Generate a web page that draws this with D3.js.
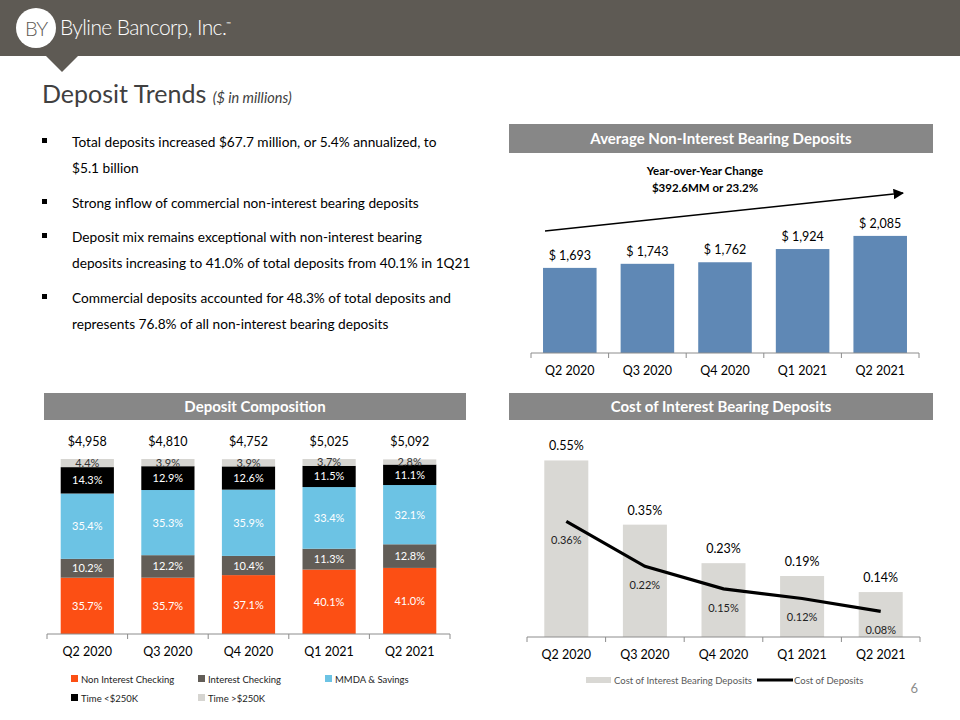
<!DOCTYPE html>
<html>
<head>
<meta charset="utf-8">
<script src="https://d3js.org/d3.v7.min.js"></script>
<style>
  body { margin: 0; padding: 0; background: #fff; }
  svg text { font-family: Lato, "Open Sans", sans-serif; }
</style>
</head>
<body>
<div id="slide"></div>
<script>
// ---- data ----
var quarters = ["Q2 2020", "Q3 2020", "Q4 2020", "Q1 2021", "Q2 2021"];
var avgNonIntBearing = [1693, 1743, 1762, 1924, 2085];
var totalDeposits = [4958, 4810, 4752, 5025, 5092];
var mixNames = ["Non Interest Checking", "Interest Checking", "MMDA & Savings", "Time <$250K", "Time >$250K"];
var nonIntChecking = [35.7, 35.7, 37.1, 40.1, 41.0];
var intChecking = [10.2, 12.2, 10.4, 11.3, 12.8];
var mmdaSavings = [35.4, 35.3, 35.9, 33.4, 32.1];
var timeUnder250 = [14.3, 12.9, 12.6, 11.5, 11.1];
var timeOver250 = [4.4, 3.9, 3.9, 3.7, 2.8];
var costIntBearing = [0.55, 0.35, 0.23, 0.19, 0.14];
var costDeposits = [0.36, 0.22, 0.15, 0.12, 0.08];
var bullets = [
  ["Total deposits increased $67.7 million, or 5.4% annualized, to", "$5.1 billion"],
  ["Strong inflow of commercial non-interest bearing deposits"],
  ["Deposit mix remains exceptional with non-interest bearing", "deposits increasing to 41.0% of total deposits from 40.1% in 1Q21"],
  ["Commercial deposits accounted for 48.3% of total deposits and", "represents 76.8% of all non-interest bearing deposits"]
];

var W = 960, H = 720;
var svg = d3.select("#slide").append("svg")
  .attr("width", W).attr("height", H);

// ---- header ----
svg.append("rect").attr("x", 0).attr("y", 0).attr("width", W).attr("height", 56)
  .attr("fill", "#5e5a54");
svg.append("path").attr("d", "M45,55 L79,55 L62,72 Z").attr("fill", "#5e5a54");
svg.append("circle").attr("cx", 36).attr("cy", 28).attr("r", 20).attr("fill", "#fff");
svg.append("text").attr("x", 36).attr("y", 35.5).attr("text-anchor", "middle")
  .style("font-size", "20px").style("font-weight", 300).style("letter-spacing", "-1px")
  .attr("fill", "#5e5a54").text("BY");
svg.append("text").attr("x", 60).attr("y", 35)
  .style("font-size", "21px").style("font-weight", 300).style("letter-spacing", "-0.6px")
  .attr("fill", "#fff").text("Byline Bancorp, Inc.");
svg.append("text").attr("x", 226).attr("y", 26)
  .style("font-size", "6px").attr("fill", "#fff").text("™");

// ---- title ----
var title = svg.append("text").attr("x", 42).attr("y", 103).attr("fill", "#404040");
title.append("tspan").style("font-size", "25px").text("Deposit Trends ");
title.append("tspan").style("font-size", "14.5px").style("font-style", "italic").text("($ in millions)");

// ---- bullets ----
var lineY = [[142, 168], [203], [237, 263], [298, 324]];
bullets.forEach(function (b, i) {
  svg.append("rect").attr("x", 42).attr("y", lineY[i][0] - 4).attr("width", 5).attr("height", 5)
    .attr("fill", "#000");
  b.forEach(function (line, j) {
    svg.append("text").attr("x", 72).attr("y", lineY[i][j] + 5)
      .style("font-size", "13.7px").attr("fill", "#000").text(line);
  });
});

// ---- section headers ----
function sectionHeader(x, y, w, h, label) {
  svg.append("rect").attr("x", x).attr("y", y).attr("width", w).attr("height", h).attr("fill", "#878787");
  svg.append("text").attr("x", x + w / 2).attr("y", y + h / 2 + 5.5).attr("text-anchor", "middle")
    .style("font-size", "15px").style("font-weight", 700).attr("fill", "#fff").text(label);
}
sectionHeader(509, 124, 424, 29, "Average Non-Interest Bearing Deposits");
sectionHeader(44, 393, 422, 27, "Deposit Composition");
sectionHeader(509, 393, 424, 27, "Cost of Interest Bearing Deposits");

function bottomAxis(g, x, y0) {
  var ax = g.append("g").attr("transform", "translate(0," + y0 + ")");
  var r = x.range();
  ax.append("line").attr("x1", r[0]).attr("x2", r[1]).attr("stroke", "#8c8c8c");
  var bounds = d3.range(quarters.length + 1).map(function (i) { return r[0] + i * x.step(); });
  ax.selectAll("line.tk").data(bounds).enter().append("line").attr("class", "tk")
    .attr("x1", function (d) { return d; }).attr("x2", function (d) { return d; })
    .attr("y1", 0).attr("y2", 5).attr("stroke", "#8c8c8c");
  ax.selectAll("text").data(quarters).enter().append("text")
    .attr("x", function (d) { return x(d) + x.bandwidth() / 2; })
    .attr("y", 22).attr("text-anchor", "middle")
    .style("font-size", "12.5px").attr("fill", "#000").text(function (d) { return d; });
}

// ---- average non-interest bearing deposits ----
var g1 = svg.append("g");
var x1 = d3.scaleBand().domain(quarters).range([531, 919]).paddingInner(0.31).paddingOuter(0.155);
var y1 = d3.scaleLinear().domain([650, 2200]).range([353, 353 - 1550 * 0.0816]);
g1.selectAll("rect").data(avgNonIntBearing).enter().append("rect")
  .attr("x", function (d, i) { return x1(quarters[i]); })
  .attr("width", x1.bandwidth())
  .attr("y", function (d) { return y1(d); })
  .attr("height", function (d) { return y1(650) - y1(d); })
  .attr("fill", "#5f88b5");
g1.selectAll("text.val").data(avgNonIntBearing).enter().append("text").attr("class", "val")
  .attr("x", function (d, i) { return x1(quarters[i]) + x1.bandwidth() / 2; })
  .attr("y", function (d) { return y1(d) - 8; })
  .attr("text-anchor", "middle").style("font-size", "12.5px").attr("fill", "#000")
  .text(function (d) { return "$ " + d3.format(",")(d); });
bottomAxis(g1, x1, 353);

svg.append("defs").append("marker").attr("id", "arrow")
  .attr("viewBox", "0 0 10 10").attr("refX", 9).attr("refY", 5)
  .attr("markerWidth", 7).attr("markerHeight", 7).attr("orient", "auto")
  .append("path").attr("d", "M0,0 L10,5 L0,10 Z").attr("fill", "#000");
g1.append("line").attr("x1", 545).attr("y1", 231).attr("x2", 903).attr("y2", 193)
  .attr("stroke", "#000").attr("stroke-width", 1.5).attr("marker-end", "url(#arrow)");
g1.append("text").attr("x", 705).attr("y", 175).attr("text-anchor", "middle")
  .style("font-size", "11.5px").style("font-weight", 700).text("Year-over-Year Change");
g1.append("text").attr("x", 705).attr("y", 192).attr("text-anchor", "middle")
  .style("font-size", "11.5px").style("font-weight", 700).text("$392.6MM or 23.2%");

// ---- deposit composition ----
var g2 = svg.append("g");
var mixColors = ["#fc4f14", "#625d57", "#6cc3e4", "#000000", "#d6d5d1"];
var mixLabelColors = ["#fff", "#fff", "#fff", "#fff", "#333"];
var mixSeries = [nonIntChecking, intChecking, mmdaSavings, timeUnder250, timeOver250];
var rows = quarters.map(function (q, i) {
  var r = { q: q };
  mixNames.forEach(function (k, j) { r[k] = mixSeries[j][i]; });
  return r;
});
var stacked = d3.stack().keys(mixNames)(rows);
var x2 = d3.scaleBand().domain(quarters).range([47, 450]).paddingInner(0.34).paddingOuter(0.17);
var y2 = d3.scaleLinear().domain([5.2, 100]).range([634, 459]);
stacked.forEach(function (layer, j) {
  var lg = g2.append("g");
  lg.selectAll("rect").data(layer).enter().append("rect")
    .attr("x", function (d) { return x2(d.data.q); })
    .attr("width", x2.bandwidth())
    .attr("y", function (d) { return y2(d[1]); })
    .attr("height", function (d) { return y2(Math.max(d[0], 5.2)) - y2(d[1]); })
    .attr("fill", mixColors[j]);
  lg.selectAll("text").data(layer).enter().append("text")
    .attr("x", function (d) { return x2(d.data.q) + x2.bandwidth() / 2; })
    .attr("y", function (d) { return (y2(Math.max(d[0], 5.2)) + y2(d[1])) / 2 + 4; })
    .attr("text-anchor", "middle").style("font-size", "11px").attr("fill", mixLabelColors[j])
    .text(function (d) { return d3.format(".1f")(d.data[mixNames[j]]) + "%"; });
});
g2.selectAll("text.tot").data(totalDeposits).enter().append("text").attr("class", "tot")
  .attr("x", function (d, i) { return x2(quarters[i]) + x2.bandwidth() / 2; })
  .attr("y", 446).attr("text-anchor", "middle").style("font-size", "12.5px").attr("fill", "#000")
  .text(function (d) { return "$" + d3.format(",")(d); });
bottomAxis(g2, x2, 634);

var legPos = [[71, 679], [198, 679], [325, 679], [71, 698], [198, 698]];
mixNames.forEach(function (k, j) {
  svg.append("rect").attr("x", legPos[j][0]).attr("y", legPos[j][1] - 4).attr("width", 7).attr("height", 7)
    .attr("fill", mixColors[j]);
  svg.append("text").attr("x", legPos[j][0] + 10).attr("y", legPos[j][1] + 3.5)
    .style("font-size", "9.5px").attr("fill", "#222").text(k);
});

// ---- cost of interest bearing deposits ----
var g3 = svg.append("g");
var x3 = d3.scaleBand().domain(quarters).range([527, 920]).paddingInner(0.44).paddingOuter(0.22);
var y3 = d3.scaleLinear().domain([0, 0.6]).range([637, 637 - 0.6 * 321]);
g3.selectAll("rect").data(costIntBearing).enter().append("rect")
  .attr("x", function (d, i) { return x3(quarters[i]); })
  .attr("width", x3.bandwidth())
  .attr("y", function (d) { return y3(d); })
  .attr("height", function (d) { return y3(0) - y3(d); })
  .attr("fill", "#d9d8d4");
g3.selectAll("text.bv").data(costIntBearing).enter().append("text").attr("class", "bv")
  .attr("x", function (d, i) { return x3(quarters[i]) + x3.bandwidth() / 2; })
  .attr("y", function (d) { return y3(d) - 10; })
  .attr("text-anchor", "middle").style("font-size", "12.5px").attr("fill", "#000")
  .text(function (d) { return d3.format(".2f")(d) + "%"; });
var line3 = d3.line()
  .x(function (d, i) { return x3(quarters[i]) + x3.bandwidth() / 2; })
  .y(function (d) { return y3(d); });
g3.append("path").datum(costDeposits).attr("d", line3)
  .attr("fill", "none").attr("stroke", "#000").attr("stroke-width", 3.2);
g3.selectAll("text.lv").data(costDeposits).enter().append("text").attr("class", "lv")
  .attr("x", function (d, i) { return x3(quarters[i]) + x3.bandwidth() / 2; })
  .attr("y", function (d) { return y3(d) + 23; })
  .attr("text-anchor", "middle").style("font-size", "11px").attr("fill", "#222")
  .text(function (d) { return d3.format(".2f")(d) + "%"; });
bottomAxis(g3, x3, 637);

svg.append("rect").attr("x", 586).attr("y", 677).attr("width", 25).attr("height", 6).attr("fill", "#d9d8d4");
svg.append("text").attr("x", 614).attr("y", 683.5).style("font-size", "9.5px").attr("fill", "#595959")
  .text("Cost of Interest Bearing Deposits");
svg.append("line").attr("x1", 757).attr("x2", 793).attr("y1", 680).attr("y2", 680)
  .attr("stroke", "#000").attr("stroke-width", 3);
svg.append("text").attr("x", 794).attr("y", 683.5).style("font-size", "9.5px").attr("fill", "#595959")
  .text("Cost of Deposits");

svg.append("text").attr("x", 918).attr("y", 693).attr("text-anchor", "end")
  .style("font-size", "13px").attr("fill", "#8c8c8c").text("6");
</script>
</body>
</html>
